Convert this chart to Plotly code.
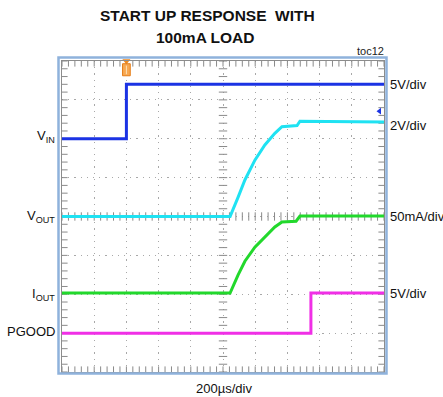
import numpy as np
import plotly.graph_objects as go

# ---- data (time in divisions of 200us, amplitude in screen divisions) ----
vin_t = [0, 2.0, 2.0, 10]
vin_v = [6.0, 6.0, 7.4, 7.4]

vout_t = [0, 5.22, 5.47, 5.68, 5.99, 6.30, 6.61, 6.83, 7.30, 7.39, 10]
vout_v = [4.0, 4.0, 4.50, 4.94, 5.45, 5.84, 6.14, 6.31, 6.34, 6.45, 6.43]

iout_t = [0, 5.22, 5.47, 5.68, 5.99, 6.30, 6.61, 6.83, 7.27, 7.39, 10]
iout_v = [2.03, 2.03, 2.50, 2.85, 3.21, 3.47, 3.73, 3.86, 3.88, 4.01, 4.01]

pgood_t = [0, 7.73, 7.73, 10]
pgood_v = [1.0, 1.0, 2.03, 2.03]

trigger_t = 2.0

left_labels = ["V<sub>IN</sub>", "V<sub>OUT</sub>", "I<sub>OUT</sub>", "PGOOD"]
left_label_y = [6.05, 4.0, 2.0, 1.05]
right_labels = ["5V/div", "2V/div", "50mA/div", "5V/div"]
right_label_y = [7.4, 6.35, 4.0, 2.03]

colors = {"vin": "#1b33e4", "vout": "#1fe2f2", "iout": "#22d82c", "pgood": "#f02fe6"}

W, H = 443, 397
L, R, T, B = 62, 59, 61, 25
pw, ph = W - L - R, H - T - B


def px(x):
    return (x - L) / pw


def py(y):
    return (H - B - y) / ph


fig = go.Figure()

# center-line and edge tick marks (scope graticule)
minor = np.arange(0, 10.001, 0.2)
minor_y = np.arange(0, 8.001, 0.2)
tick_col = "#8a8a8a"
fig.add_trace(go.Scatter(x=minor, y=[4] * len(minor), mode="markers", hoverinfo="skip",
                         marker=dict(symbol="line-ns", size=6, line=dict(color=tick_col, width=1))))
fig.add_trace(go.Scatter(x=[5] * len(minor_y), y=minor_y, mode="markers", hoverinfo="skip",
                         marker=dict(symbol="line-ew", size=6, line=dict(color=tick_col, width=1))))
fig.add_trace(go.Scatter(x=np.concatenate([minor, minor]), y=[0] * len(minor) + [8] * len(minor),
                         mode="markers", hoverinfo="skip",
                         marker=dict(symbol="line-ns", size=8, line=dict(color=tick_col, width=1))))
fig.add_trace(go.Scatter(x=[0] * len(minor_y) + [10] * len(minor_y), y=np.concatenate([minor_y, minor_y]),
                         mode="markers", hoverinfo="skip",
                         marker=dict(symbol="line-ew", size=8, line=dict(color=tick_col, width=1))))

# signal traces
for t, v, c in [(vin_t, vin_v, colors["vin"]), (pgood_t, pgood_v, colors["pgood"]),
                (iout_t, iout_v, colors["iout"]), (vout_t, vout_v, colors["vout"])]:
    fig.add_trace(go.Scatter(x=t, y=v, mode="lines", line=dict(color=c, width=3), hoverinfo="skip"))

# trigger marker
fig.add_trace(go.Scatter(x=[trigger_t], y=[8], mode="markers", cliponaxis=False, hoverinfo="skip",
                         marker=dict(symbol="triangle-down", size=7, color="#f08a20")))
fig.add_shape(type="rect", xref="x", yref="y", x0=trigger_t - 0.12, x1=trigger_t + 0.12, y0=7.62, y1=7.93,
              fillcolor="#f7a852", line=dict(color="#e57d18", width=1))
fig.add_shape(type="line", xref="x", yref="y", x0=trigger_t, x1=trigger_t, y0=7.66, y1=7.88,
              line=dict(color="#fde0b8", width=1))
# reference arrow on right edge
fig.add_trace(go.Scatter(x=[9.86], y=[6.71], mode="markers", hoverinfo="skip",
                         marker=dict(symbol="triangle-left", size=6, color=colors["vin"])))

# outer blue frame
fig.add_shape(type="rect", xref="paper", yref="paper",
              x0=-3.5 / pw, x1=1 + 2.5 / pw, y0=-1.5 / ph, y1=1 + 3.5 / ph,
              line=dict(color="#8fb2dc", width=2.5), fillcolor="rgba(0,0,0,0)")

ann = []
font = "Liberation Sans, Arial, sans-serif"
ann.append(dict(text="<b>START UP RESPONSE \u00a0WITH</b>", x=px(207), y=py(16), xref="paper", yref="paper",
                showarrow=False, xanchor="center", yanchor="middle", font=dict(size=15.5, color="#111", family=font)))
ann.append(dict(text="<b>100mA LOAD</b>", x=px(205), y=py(37.5), xref="paper", yref="paper",
                showarrow=False, xanchor="center", yanchor="middle", font=dict(size=15.5, color="#111", family=font)))
ann.append(dict(text="toc12", x=px(386), y=py(51), xref="paper", yref="paper",
                showarrow=False, xanchor="right", yanchor="middle", font=dict(size=11, color="#222", family=font)))
ann.append(dict(text="200µs/div", x=px(224), y=py(388), xref="paper", yref="paper",
                showarrow=False, xanchor="center", yanchor="middle", font=dict(size=13, color="#111", family=font)))
for txt, yv in zip(left_labels, left_label_y):
    ann.append(dict(text=txt, x=px(57), y=yv, xref="paper", yref="y", showarrow=False,
                    xanchor="right", yanchor="middle", font=dict(size=13, color="#111", family=font)))
for txt, yv in zip(right_labels, right_label_y):
    ann.append(dict(text=txt, x=px(388), y=yv, xref="paper", yref="y", showarrow=False,
                    xanchor="left", yanchor="middle", font=dict(size=13, color="#111", family=font)))

axis_common = dict(showgrid=True, gridcolor="#a8a8a8", gridwidth=1, griddash="1.2px,5px",
                   showticklabels=False, zeroline=False, showline=True, linecolor="#8c8c8c",
                   linewidth=1, mirror=True, ticks="", fixedrange=True)
fig.update_layout(
    width=W, height=H, autosize=False,
    margin=dict(l=L, r=R, t=T, b=B, pad=0),
    paper_bgcolor="white", plot_bgcolor="white", showlegend=False,
    xaxis=dict(range=[0, 10], dtick=1, **axis_common),
    yaxis=dict(range=[0, 8], dtick=1, **axis_common),
    annotations=ann,
)
fig.write_html("out.html")
